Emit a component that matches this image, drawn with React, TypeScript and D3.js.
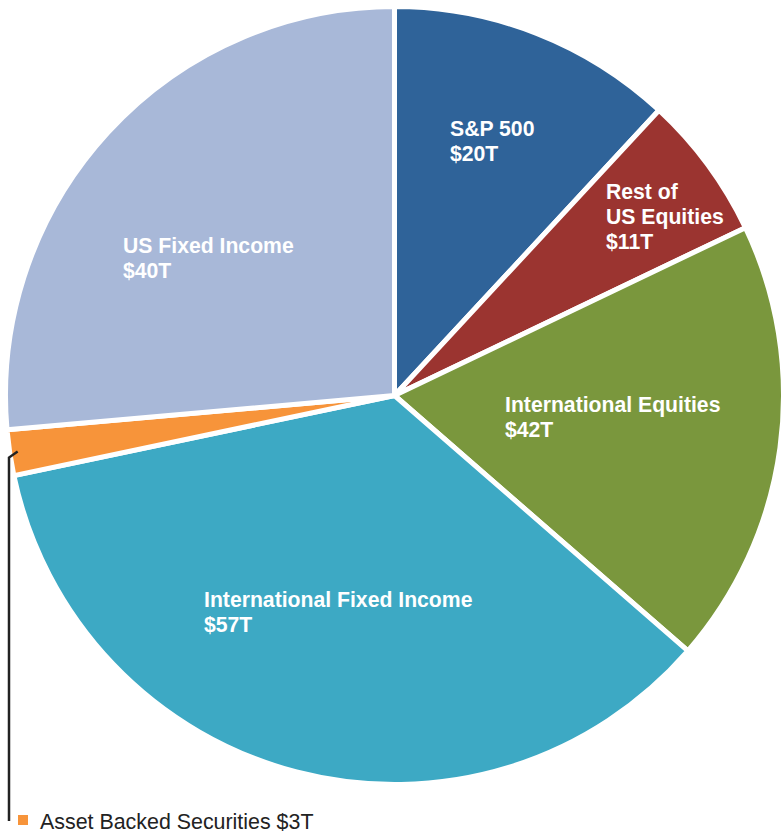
import React from "react";
import * as d3 from "d3";

const categories = ["S&P 500", "Rest of US Equities", "International Equities", "International Fixed Income", "Asset Backed Securities", "US Fixed Income"];
// slice shares as drawn in the picture (percent of the circle)
const sliceShares = [11.9, 6.0, 18.5, 35.3, 1.9, 26.4];
const valueLabels = ["$20T", "$11T", "$42T", "$57T", "$3T", "$40T"];
const labelLines: string[][] = [
  ["S&P 500", "$20T"],
  ["Rest of", "US Equities", "$11T"],
  ["International Equities", "$42T"],
  ["International Fixed Income", "$57T"],
  [],
  ["US Fixed Income", "$40T"],
];
const colors = ["#2f6399", "#9b3430", "#7a973d", "#3da9c4", "#f7943a", "#a8b8d8"];

const W = 782;
const H = 833;
const cx = 394.5;
const cy = 395.5;
const R = 389;
const FONT = "'Liberation Sans', Arial, Helvetica, sans-serif";

// label anchor positions (start x, first baseline)
const labelPos: [number, number][] = [
  [450, 136],
  [606, 199],
  [505, 412],
  [204, 607],
  [0, 0],
  [123, 253],
];

export default function App() {
  const pie = d3.pie<number>().sort(null).value((d) => d);
  const arcs = pie(sliceShares);
  const arc = d3.arc<d3.PieArcDatum<number>>().innerRadius(0).outerRadius(R);

  // leader line from the ABS slice
  const abs = arcs[4];
  const mid = (abs.startAngle + abs.endAngle) / 2;
  const rEdge = R - 8;
  const lx = cx + Math.sin(mid) * rEdge;
  const ly = cy - Math.cos(mid) * rEdge;

  return (
    <svg
      width={W}
      height={H}
      style={{ position: "absolute", left: 0, top: 0, display: "block" }}
      fontFamily={FONT}
    >
      <g transform={`translate(${cx},${cy})`}>
        {arcs.map((a, i) => (
          <path key={categories[i]} d={arc(a) || ""} fill={colors[i]} stroke="#ffffff" strokeWidth={5} strokeLinejoin="round" />
        ))}
      </g>
      {labelLines.map((lines, i) =>
        lines.length ? (
          <text key={i} x={labelPos[i][0]} y={labelPos[i][1]} fill="#ffffff" fontWeight="bold" fontSize={21.2}>
            {lines.map((l, j) => (
              <tspan key={j} x={labelPos[i][0]} dy={j === 0 ? 0 : 25}>
                {l}
              </tspan>
            ))}
          </text>
        ) : null
      )}
      <polyline
        points={`${lx},${ly} ${9},${ly + 6} ${9},${821}`}
        fill="none"
        stroke="#222222"
        strokeWidth={2.5}
      />
      <rect x={18} y={815} width={10} height={10} fill={colors[4]} />
      <text x={40} y={829} fontSize={21.4} fill="#222222">
        {categories[4]} {valueLabels[4]}
      </text>
    </svg>
  );
}
